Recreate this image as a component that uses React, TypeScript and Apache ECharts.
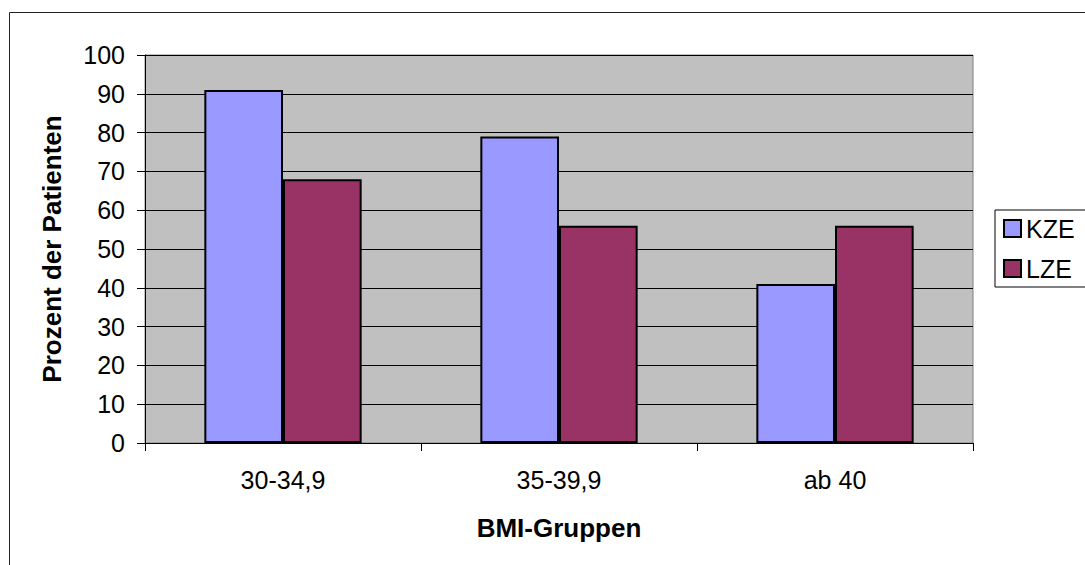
import React, { useEffect, useRef } from "react";
import * as echarts from "echarts";

const categories = ["30-34,9", "35-39,9", "ab 40"];
const kzeValues = [91, 79, 41];
const lzeValues = [68, 56, 56];
const seriesNames = ["KZE", "LZE"];
const xAxisTitle = "BMI-Gruppen";
const yAxisTitle = "Prozent der Patienten";

const FONT = "'Liberation Sans', Arial, sans-serif";

export default function App() {
  const ref = useRef<HTMLDivElement>(null);
  useEffect(() => {
    if (!ref.current) return;
    const chart = echarts.init(ref.current, null, { renderer: "svg" });
    chart.setOption({
      animation: false,
      backgroundColor: "#ffffff",
      textStyle: { fontFamily: FONT, color: "#000" },
      grid: {
        left: 145,
        top: 55,
        right: 112,
        bottom: 122,
        show: true,
        backgroundColor: "#C0C0C0",
        borderColor: "#808080",
        borderWidth: 1,
      },
      legend: {
        orient: "vertical",
        left: 995,
        top: 210,
        data: seriesNames,
        icon: "rect",
        itemWidth: 17,
        itemHeight: 17,
        itemGap: 15,
        padding: [6, 40, 6, 8],
        borderColor: "#000",
        borderWidth: 1,
        backgroundColor: "#fff",
        textStyle: { fontSize: 25, color: "#000", fontFamily: FONT, padding: [0, 0, 0, 0] },
      },
      xAxis: {
        type: "category",
        data: categories,
        name: xAxisTitle,
        nameLocation: "middle",
        nameGap: 72,
        nameTextStyle: { fontSize: 26, fontWeight: "bold", color: "#000", fontFamily: FONT },
        axisLine: { lineStyle: { color: "#000", width: 1 } },
        axisTick: { show: true, length: 8, lineStyle: { color: "#000" }, alignWithLabel: false },
        axisLabel: { fontSize: 25, color: "#000", margin: 24, fontFamily: FONT },
        splitLine: { show: false },
      },
      yAxis: {
        type: "value",
        min: 0,
        max: 100,
        interval: 10,
        name: yAxisTitle,
        nameLocation: "middle",
        nameGap: 80,
        nameTextStyle: { fontSize: 26, fontWeight: "bold", color: "#000", fontFamily: FONT },
        axisLine: { show: true, lineStyle: { color: "#000", width: 1 } },
        axisTick: { show: true, length: 8, lineStyle: { color: "#000" } },
        axisLabel: { fontSize: 25, color: "#000", margin: 20, fontFamily: FONT },
        splitLine: { show: true, lineStyle: { color: "#000", width: 1 } },
      },
      series: [
        {
          name: seriesNames[0],
          type: "bar",
          data: kzeValues,
          barGap: "0%",
          barCategoryGap: "43%",
          itemStyle: { color: "#9999FF", borderColor: "#000", borderWidth: 2 },
        },
        {
          name: seriesNames[1],
          type: "bar",
          data: lzeValues,
          barGap: "0%",
          barCategoryGap: "43%",
          itemStyle: { color: "#993366", borderColor: "#000", borderWidth: 2 },
        },
      ],
      graphic: [
        {
          type: "rect",
          shape: { x: 9.5, y: 12.5, width: 1200, height: 700 },
          style: { fill: "none", stroke: "#222", lineWidth: 1 },
          silent: true,
          z: 100,
        },
      ],
    });
    return () => chart.dispose();
  }, []);
  return (
    <div
      ref={ref}
      style={{ position: "fixed", left: 0, top: 0, width: 1085, height: 565 }}
    />
  );
}
